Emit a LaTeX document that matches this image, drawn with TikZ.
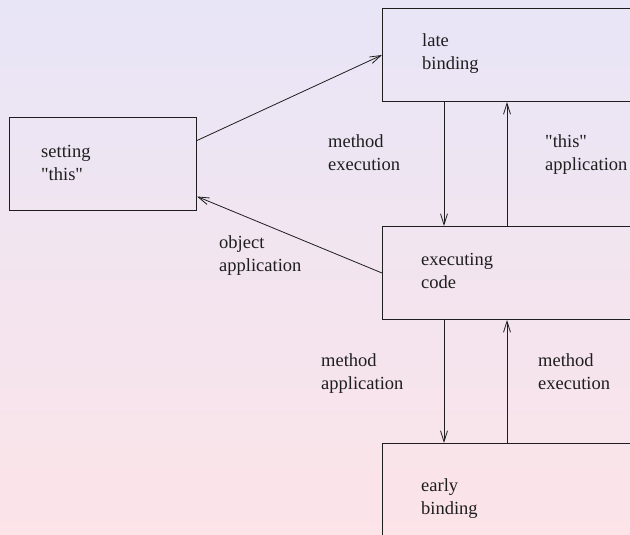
\documentclass[tikz,border=0pt]{standalone}
\usepackage{fontspec}
\setmainfont{Liberation Serif}
\usetikzlibrary{arrows.meta}
\definecolor{bgtop}{RGB}{232,229,247}
\definecolor{bgbot}{RGB}{252,228,232}
\definecolor{ink}{RGB}{30,30,30}
\tikzset{
  box/.style={draw=ink, line width=1pt, inner sep=0pt, anchor=north west},
  % multi-line text: the base anchor sits on the baseline of the last line
  txt/.style={anchor=base west, inner sep=0pt, align=left, text=ink,
    font=\fontsize{18.5pt}{23pt}\selectfont},
  arr/.style={draw=ink, line width=0.8pt, -{Straight Barb[length=11pt,width=7pt]}}
}
\begin{document}
\begin{tikzpicture}[x=1pt,y=-1pt]
  \useasboundingbox (0,0) rectangle (630,535);
  \clip (0,0) rectangle (630,535);
  \shade[top color=bgtop, bottom color=bgbot] (0,0) rectangle (630,535);

  % the four boxes
  \node[box, minimum width=260pt, minimum height=93pt] (lb) at (382,8) {};
  \node[box, minimum width=187pt, minimum height=93pt] (st) at (9,117) {};
  \node[box, minimum width=260pt, minimum height=93pt] (ec) at (382,226) {};
  \node[box, minimum width=260pt, minimum height=120pt] (eb) at (382,443) {};

  % box texts
  \node[txt] (lbt) at (422,70) {late\\binding};
  \node[txt] (stt) at (41,180) {setting\\\textquotedbl this\textquotedbl};
  \node[txt] (ect) at (421,288) {executing\\code};
  \node[txt] (ebt) at (421,514) {early\\binding};

  % connector labels
  \node[txt] (l1) at (328,170) {method\\execution};
  \node[txt] (l2) at (545,170) {\textquotedbl this\textquotedbl\\application};
  \node[txt] (l3) at (219,271) {object\\application};
  \node[txt] (l4) at (321,389) {method\\application};
  \node[txt] (l5) at (538,389) {method\\execution};

  % connectors
  \draw[arr] ([yshift=23.5pt]st.east) -- (lb.west);
  \draw[arr] (ec.west) -- ([yshift=-32.5pt]st.east);
  \draw[arr] ([xshift=62pt]lb.south west) -- ([xshift=62pt]ec.north west);
  \draw[arr] ([xshift=125pt]ec.north west) -- ([xshift=125pt]lb.south west);
  \draw[arr] ([xshift=62pt]ec.south west) -- ([xshift=62pt]eb.north west);
  \draw[arr] ([xshift=125pt]eb.north west) -- ([xshift=125pt]ec.south west);
\end{tikzpicture}
\end{document}
